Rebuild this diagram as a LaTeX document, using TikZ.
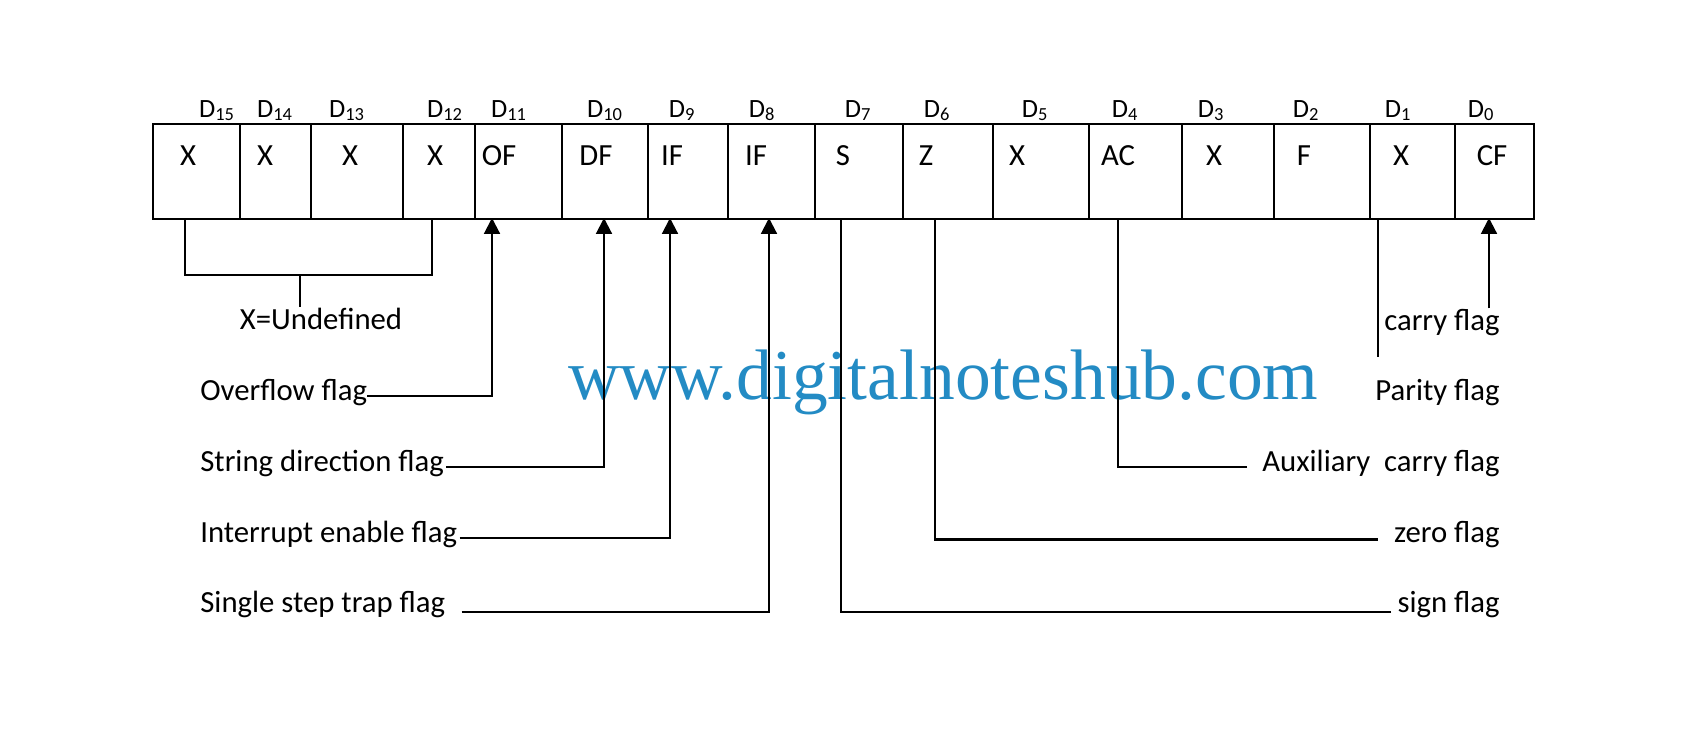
\documentclass[tikz,border=0pt]{standalone}
\usepackage{fontspec}
\setmainfont{Carlito}
\newfontfamily\wmfont{Liberation Serif}
\usetikzlibrary{arrows.meta}
\definecolor{wmblue}{RGB}{35,139,196}

\begin{document}
\begin{tikzpicture}[x=0.02cm, y=-0.02cm,
    cell/.style={draw, line width=1.3pt, anchor=north west, minimum height=1.9cm, inner sep=0pt},
    celltext/.style={anchor=base, inner sep=0pt, font=\fontsize{17.5}{20}\selectfont},
    bitlabel/.style={anchor=base, inner sep=0pt, font=\fontsize{15}{18}\selectfont},
    flaglabel/.style={inner sep=0pt, font=\fontsize{17.5}{20}\selectfont},
    wire/.style={line width=1.2pt},
    toflag/.style={wire, -{Triangle[width=9pt,length=9pt]}}]
    % Page frame
    \useasboundingbox (0,0) rectangle (1700,754);
    % Watermark sits behind the lines
    \node[anchor=base west, inner sep=0pt, text=wmblue, font=\wmfont\fontsize{40.7}{44}\selectfont] (wm) at (568,399) {www.digitalnoteshub.com};

    % Flag register: bit/left/right/content/content x/bit label x
    \foreach \bit/\xa/\xb/\txt/\tx/\dx in {
        15/152/239/X/188/217,
        14/239/310/X/265/275,
        13/310/402/X/350/347,
        12/402/474/X/435/445,
        11/474/561/OF/499/509,
        10/561/647/DF/596/605,
        9/647/727/IF/672/682,
        8/727/814/IF/756/762,
        7/814/902/S/843/858,
        6/902/992/Z/926/937,
        5/992/1088/X/1017/1035,
        4/1088/1181/AC/1118/1125,
        3/1181/1273/X/1214/1211,
        2/1273/1369/F/1304/1306,
        1/1369/1454/X/1401/1398,
        0/1454/1533/CF/1492/1481
    } {
        \pgfmathsetlengthmacro{\w}{(\xb-\xa)*0.02cm}
        \node[cell, minimum width=\w] (c\bit) at (\xa,123) {};
        \node[celltext] (t\bit) at (\tx,165) {\txt};
        \node[bitlabel] (d\bit) at (\dx,117) {D\textsubscript{\bit}};
    }

    % Undefined bits bracket
    \coordinate (b15) at (185,218);
    \coordinate (b12) at (432,218);
    \coordinate (bmid) at (300,275);
    \node[flaglabel, anchor=base] (lund) at (321,329) {X=Undefined};
    \draw[wire] (b15) |- (bmid) -| (b12);
    \draw[wire] (bmid) -- (bmid |- lund.north);

    % Left column: label, arrow up into its bit
    \foreach \id/\txt/\yb/\ax/\gap/\dy in {
        OF/Overflow flag/400/492/0/4,
        DF/String direction flag/471/604/2/4,
        IE/Interrupt enable flag/542/670/2/4,
        TF/Single step trap flag/612/769/16/0
    } {
        \node[flaglabel, anchor=base west] (l\id) at (200,\yb) {\txt};
        \coordinate (a\id) at (\ax,218);
        \draw[toflag] (l\id.base east) ++(\gap,-\dy) -| (a\id);
    }

    % Right column: plain lines from the bits
    \foreach \id/\txt/\yb/\ax/\gap/\dy in {
        AC/Auxiliary\ \ carry flag/471/1118/15/4,
        ZF/zero flag/542/935/16/2.5,
        SF/sign flag/612/841/6/0
    } {
        \node[flaglabel, anchor=base east] (l\id) at (1500,\yb) {\txt};
        \coordinate (a\id) at (\ax,218);
        \draw[wire] (l\id.base west) ++(-\gap,-\dy) -| (a\id);
    }

    % Carry and parity
    \node[flaglabel, anchor=base east] (lCF) at (1500,330) {carry flag};
    \node[flaglabel, anchor=base east] (lPF) at (1500,400) {Parity flag};
    \coordinate (aCF) at (1489,218);
    \coordinate (aPF) at (1378,218);
    \draw[toflag] (aCF |- lCF.north) -- (aCF);
    \draw[wire, shorten >=12pt] (aPF) -- (aPF |- lPF.north);
\end{tikzpicture}
\end{document}
